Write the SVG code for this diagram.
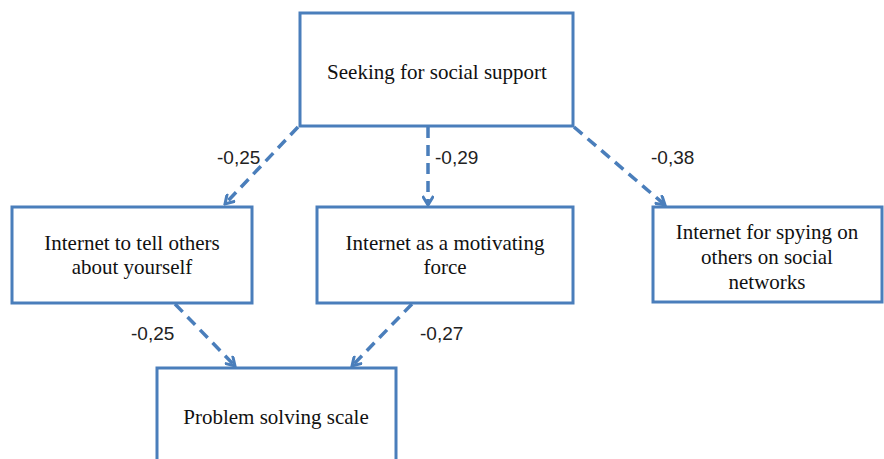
<svg xmlns="http://www.w3.org/2000/svg" width="884" height="459" viewBox="0 0 884 459">
<style>
.box{fill:#fff;stroke:#4a7ebb;stroke-width:3}
.t{font-family:"Liberation Serif",serif;font-size:21px;fill:#111;text-anchor:middle}
.c{stroke:#4a7ebb;stroke-width:3.5;fill:none;stroke-dasharray:11 7}
.l{font-family:"Liberation Sans",sans-serif;font-size:19px;fill:#222}
</style>
<defs>
<marker id="ah" markerWidth="12" markerHeight="12" refX="10" refY="6" orient="auto" markerUnits="userSpaceOnUse">
<path d="M1,0.5 L10,6 L1,11.5" fill="none" stroke="#4a7ebb" stroke-width="3"/>
</marker>
</defs>
<rect width="884" height="459" fill="#fff"/>
<g id="connectors">
<line class="c" x1="298" y1="127" x2="225" y2="204" marker-end="url(#ah)"/>
<line class="c" x1="428" y1="127" x2="428" y2="205" marker-end="url(#ah)"/>
<line class="c" x1="574" y1="127" x2="665" y2="205" marker-end="url(#ah)"/>
<line class="c" x1="175" y1="304" x2="235" y2="366" marker-end="url(#ah)"/>
<line class="c" x1="412" y1="304" x2="352" y2="366" marker-end="url(#ah)"/>
</g>
<g id="labels">
<text class="l" x="217" y="164">-0,25</text>
<text class="l" x="435" y="164">-0,29</text>
<text class="l" x="651" y="164">-0,38</text>
<text class="l" x="131" y="340">-0,25</text>
<text class="l" x="420" y="340">-0,27</text>
</g>
<g id="n1"><rect class="box" x="300" y="13" width="273" height="113"/><text class="t" x="437" y="79">Seeking for social support</text></g>
<g id="n2"><rect class="box" x="12" y="207" width="240" height="96"/><text class="t" x="132" y="250">Internet to tell others</text><text class="t" x="132" y="274">about yourself</text></g>
<g id="n3"><rect class="box" x="317" y="207" width="256" height="96"/><text class="t" x="445" y="250">Internet as a motivating</text><text class="t" x="445" y="274">force</text></g>
<g id="n4"><rect class="box" x="653" y="207" width="229" height="95"/><text class="t" x="767" y="239">Internet for spying on</text><text class="t" x="767" y="264">others on social</text><text class="t" x="767" y="289">networks</text></g>
<g id="n5"><rect class="box" x="157" y="368" width="239" height="100"/><text class="t" x="276" y="424">Problem solving scale</text></g>
</svg>
